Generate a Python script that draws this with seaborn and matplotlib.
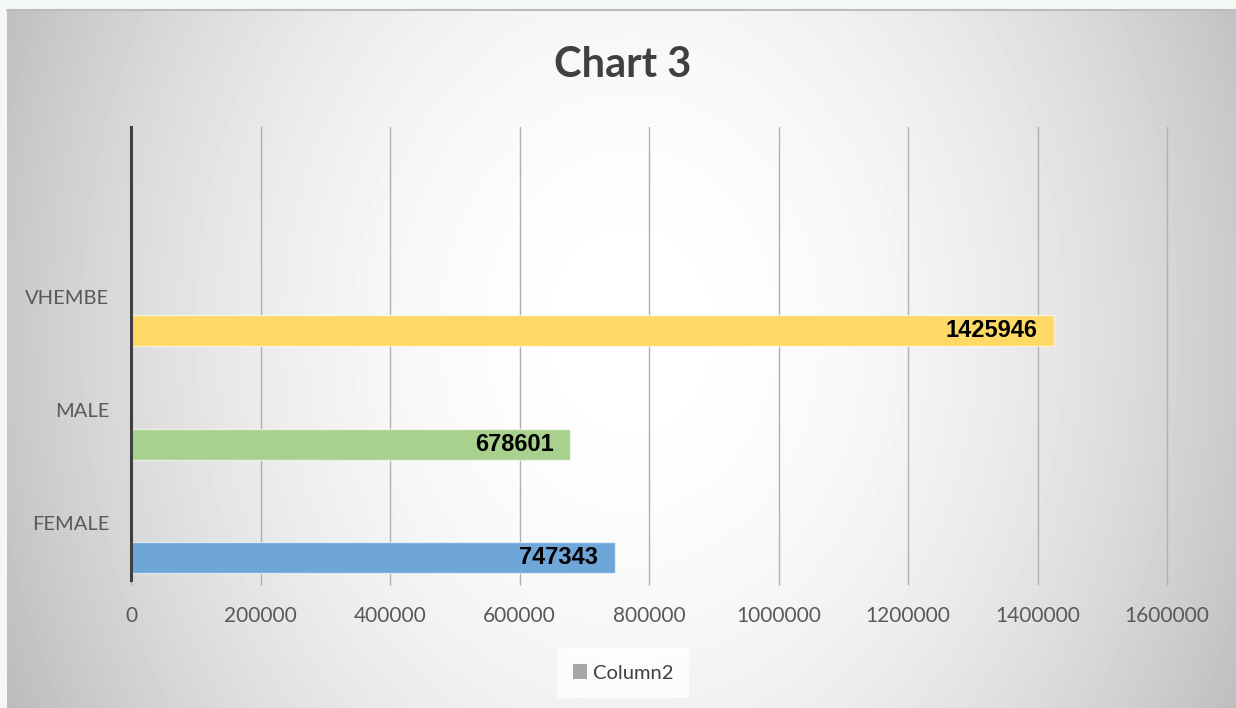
import numpy as np
import pandas as pd
import matplotlib
matplotlib.use("Agg")
import matplotlib.pyplot as plt
import seaborn as sns
from matplotlib.patches import Patch

# ---- data ----
categories = ["VHEMBE", "MALE", "FEMALE"]
values = [1425946, 678601, 747343]
bar_colors = ["#ffd966", "#a9d18e", "#6fa6da"]
series_name = "Column2"
x_ticks = [0, 200000, 400000, 600000, 800000, 1000000, 1200000, 1400000, 1600000]
chart_title = "Chart 3"

sns.set_theme(style="white")
plt.rcParams["font.family"] = ["Lato", "DejaVu Sans"]

W, H = 1236, 708
fig = plt.figure(figsize=(W / 100, H / 100), dpi=100, facecolor="#f3f8f4")

# radial gradient background of the chart area
bw, bh = W - 7, H - 9
bg = fig.add_axes([7 / W, 0, bw / W, bh / H], zorder=0)
yy, xx = np.mgrid[0:bh, 0:bw]
cx, cy = 623, 321
d = np.sqrt((xx - cx) ** 2 + (0.8 * (yy - cy)) ** 2)
drop = np.clip(60.0 * (d / 650.0) ** 2, 0, 72)
img = (255.0 - drop) / 255.0
bg.imshow(img, cmap="gray", vmin=0, vmax=1, aspect="auto", interpolation="bilinear")
bg.axis("off")
fig.add_artist(plt.Line2D([7 / W, 1], [1 - 9.5 / H, 1 - 9.5 / H], color="#bcbcbc", lw=1.5))

ax = fig.add_axes([131 / W, 1 - 580 / H, (1167 - 131) / W, (580 - 127) / H], zorder=1)
ax.patch.set_alpha(0)

df = pd.DataFrame({"category": categories, "value": values, "series": series_name})
hue_levels = ["_s1", "_s2", series_name]
sns.barplot(data=df, x="value", y="category", hue="series", hue_order=hue_levels,
            order=[" "] + categories, orient="h", width=0.9, gap=0.09, dodge=True,
            palette={"_s1": "#cccccc", "_s2": "#cccccc", series_name: "#a6a6a6"},
            legend=False, ax=ax, errorbar=None)

color_map = dict(zip(categories, bar_colors))
order_all = [" "] + categories
for p in ax.patches:
    w = p.get_width()
    if not np.isfinite(w) or w <= 0:
        continue
    yc = p.get_y() + p.get_height() / 2
    cat = order_all[int(round(yc - 0.3))]
    p.set_facecolor(color_map[cat])
    p.set_edgecolor((1, 1, 1, 0.6))
    p.set_linewidth(1.0)
    ax.annotate(f"{int(round(w))}", xy=(w, yc), xytext=(-12, 0), textcoords="offset points",
                ha="right", va="center", fontsize=17, fontweight="bold",
                family=["Liberation Sans", "DejaVu Sans"], color="black", zorder=5)

ax.set_xlim(0, 1600000)
ax.set_xticks(x_ticks)
ax.set_xticklabels([str(t) for t in x_ticks])
ax.set_xlabel("")
ax.set_ylabel("")
ax.xaxis.grid(True, color="#b0b0b0", lw=1)
for gl in ax.get_xgridlines():
    gl.set_clip_on(False)
ax.yaxis.grid(False)
ax.set_axisbelow(True)
ax.tick_params(axis="x", length=3.6, color="#b0b0b0", width=1, pad=15, labelsize=15, labelcolor="#595959", bottom=True)
ax.tick_params(axis="y", length=0, pad=15.5, labelsize=14.5, labelcolor="#595959")
for s in ["top", "right", "bottom"]:
    ax.spines[s].set_visible(False)
ax.spines["left"].set_color("#404040")
ax.spines["left"].set_linewidth(2.2)

fig.text(623 / W, 1 - 65 / H, chart_title, ha="center", va="center", fontsize=30,
         fontweight="bold", color="#404040")

leg = fig.legend(handles=[Patch(facecolor="#a6a6a6", edgecolor="none", label=series_name)],
                 loc="center", bbox_to_anchor=(623 / W, 1 - 673 / H), frameon=True,
                 fancybox=False, fontsize=14.5, handlelength=0.7, handleheight=0.7,
                 handletextpad=0.3, borderpad=0.8)
leg.get_frame().set_facecolor((1, 1, 1, 0.3))
leg.get_frame().set_edgecolor("none")
for t in leg.get_texts():
    t.set_color("#404040")

fig.savefig("out.png", dpi=100, facecolor=fig.get_facecolor())
